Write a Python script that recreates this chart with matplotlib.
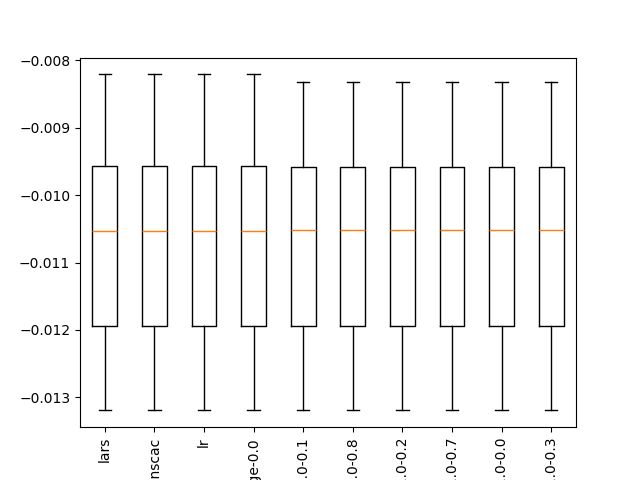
import matplotlib
matplotlib.use("Agg")
import matplotlib.pyplot as plt

# model names (long names get cut off at the bottom edge, like in the original)
labels = ["lars", "ransacnscac", "lr", "ridge-0.0",
          "elasticnet-1.0-0.1", "elasticnet-1.0-0.8", "elasticnet-1.0-0.2",
          "elasticnet-1.0-0.7", "elasticnet-1.0-0.0", "elasticnet-1.0-0.3"]

# box statistics
whisker_hi = [-0.008208] * 4 + [-0.008316] * 6
q3 = [-0.009561] * 4 + [-0.009576] * 6
medians = [-0.010525] * 4 + [-0.010510] * 6
q1 = [-0.011934] * 10
whisker_lo = [-0.013193] * 10


def main():
    stats = []
    for i in range(len(labels)):
        stats.append({
            "label": labels[i],
            "whishi": whisker_hi[i],
            "q3": q3[i],
            "med": medians[i],
            "q1": q1[i],
            "whislo": whisker_lo[i],
            "fliers": [],
        })

    fig, ax = plt.subplots(figsize=(6.4, 4.8), dpi=100)
    ax.bxp(stats, showfliers=False)
    plt.xticks(rotation=90)
    fig.savefig("out.png")


if __name__ == "__main__":
    main()
